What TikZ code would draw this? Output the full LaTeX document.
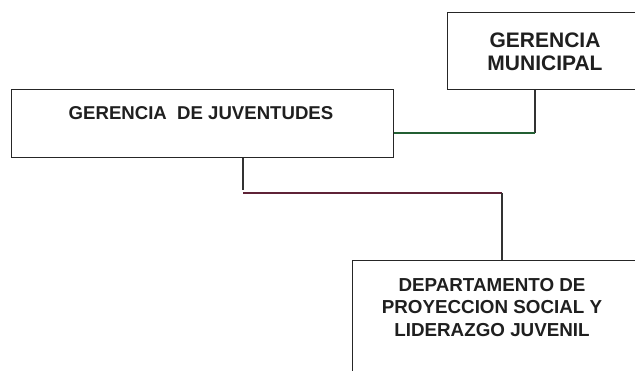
\documentclass[tikz,border=0pt]{standalone}
\usepackage{fontspec}
\setmainfont{Liberation Sans}
\definecolor{lnred}{RGB}{95,35,55}
\definecolor{lngreen}{RGB}{35,95,50}
\begin{document}
\begin{tikzpicture}[x=1pt,y=-1pt,
  box/.style={draw=black!85, line width=1.3pt, rectangle, inner sep=0pt, anchor=north west},
  lbl/.style={font=\bfseries, text=black!88, align=center, inner sep=0pt},
  dk/.style={draw=black!80, line width=1.4pt},
  gr/.style={draw=lngreen, line width=1.6pt},
  rd/.style={draw=lnred, line width=1.4pt}]
\useasboundingbox (0,0) rectangle (635,371);
\clip (0,0) rectangle (635,371);
% boxes
\node[box, minimum width=200, minimum height=77] (mun) at (447,12) {};
\node[box, minimum width=382, minimum height=68] (juv) at (11,89) {};
\node[box, minimum width=300, minimum height=130] (dep) at (352,260) {};
% texts
\node[lbl, font=\fontsize{21}{23}\selectfont\bfseries] (muntext) at (545,51.5) {GERENCIA\\MUNICIPAL};
\node[lbl, font=\fontsize{18.6}{20}\selectfont\bfseries] (juvtext) at (201,113) {GERENCIA\ \ DE JUVENTUDES};
\node[lbl, font=\fontsize{18.8}{22.5}\selectfont\bfseries] (deptext) at (492,307.5) {DEPARTAMENTO DE\\PROYECCION SOCIAL Y\\LIDERAZGO JUVENIL};
% connectors
\coordinate (c1) at (535,133);
\coordinate (c2) at (243,193);
\coordinate (c3) at (502,193);
\draw[dk] (c1 |- mun.south) -- (c1);
\draw[gr] (c1) -- (c1 -| juv.east);
\draw[dk] (c2 |- juv.south) -- ([yshift=3]c2);
\draw[rd] (c2) -- (c3);
\draw[dk] (c3) -- (c3 |- dep.north);
\end{tikzpicture}
\end{document}
